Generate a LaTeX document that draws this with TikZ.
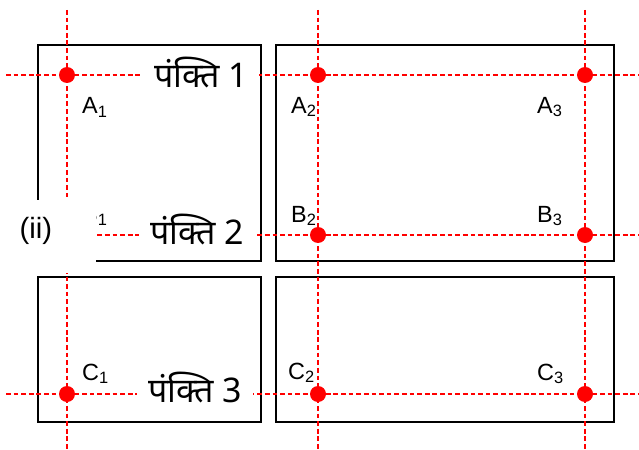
\documentclass[tikz,border=0pt]{standalone}
\usepackage{fontspec}
\setmainfont{Liberation Sans}
\newfontfamily\devfont[Script=Devanagari]{Noto Sans}
\usetikzlibrary{positioning}
\tikzstyle{panel} = [draw=black, line width=1.7pt]
\tikzstyle{guide} = [red, line width=1.35pt, dash pattern=on 4pt off 2.5pt]
\tikzstyle{point} = [circle, fill=red, inner sep=0pt, minimum size=0.48cm]
\tikzstyle{lbl} = [anchor=base west, inner sep=0pt, font=\fontsize{20}{24}\selectfont]
\tikzstyle{row} = [anchor=base, fill=white, inner xsep=9pt, inner ysep=2pt, font=\fontsize{29}{33}\selectfont]

\begin{document}
\begin{tikzpicture}[x=0.03cm, y=-0.03cm]
    \useasboundingbox (0,0) rectangle (639,450);

    % Panels
    \draw [panel] (38,45) rectangle (261,261);
    \draw [panel] (276,45) rectangle (614,261);
    \draw [panel] (38,277) rectangle (261,422);
    \draw [panel] (276,277) rectangle (614,422);

    % Guide lines
    \coordinate (top1) at (67,10);
    \coordinate (bot1) at (67,450);
    \coordinate (top2) at (318,10);
    \coordinate (bot2) at (318,450);
    \coordinate (top3) at (585,10);
    \coordinate (bot3) at (585,450);
    \coordinate (left1) at (6,75);
    \coordinate (right1) at (639,75);
    \coordinate (left2) at (6,235);
    \coordinate (right2) at (639,235);
    \coordinate (left3) at (6,394);
    \coordinate (right3) at (639,394);
    \draw [guide] (top1) -- (bot1);
    \draw [guide] (top2) -- (bot2);
    \draw [guide] (top3) -- (bot3);
    \draw [guide] (left1) -- (right1);
    \draw [guide] (left2) -- (right2);
    \draw [guide] (left3) -- (right3);

    % Points
    \node (A1) [point] at (67,75) {};
    \node (A2) [point] at (318,75) {};
    \node (A3) [point] at (585,75) {};
    \node (B1) [point] at (67,235) {};
    \node (B2) [point] at (318,235) {};
    \node (B3) [point] at (585,235) {};
    \node (C1) [point] at (67,394) {};
    \node (C2) [point] at (318,394) {};
    \node (C3) [point] at (585,394) {};

    % Point labels
    \node (a1) [lbl] at (82,114) {A\textsubscript{1}};
    \node (a2) [lbl] at (291,113) {A\textsubscript{2}};
    \node (a3) [lbl] at (537,113) {A\textsubscript{3}};
    \node (b1) [lbl] at (82,222) {B\textsubscript{1}};
    \node (b2) [lbl] at (291,222) {B\textsubscript{2}};
    \node (b3) [lbl] at (537,222) {B\textsubscript{3}};
    \node (c1) [lbl] at (82,380) {C\textsubscript{1}};
    \node (c2) [lbl] at (288,379) {C\textsubscript{2}};
    \node (c3) [lbl] at (537,380) {C\textsubscript{3}};

    % Row names
    \node (row1) [row] at (201,88) {\devfont पंक्ति 1};
    \node (row2) [row] at (197,244) {\devfont पंक्ति 2};
    \node (row3) [row] at (195,402) {\devfont पंक्ति 3};

    % Figure tag
    \fill [white] (0,200) rectangle (96,273);
    \node (tag) at (36,231) [font=\fontsize{25}{30}\selectfont] {(ii)};
\end{tikzpicture}
\end{document}
